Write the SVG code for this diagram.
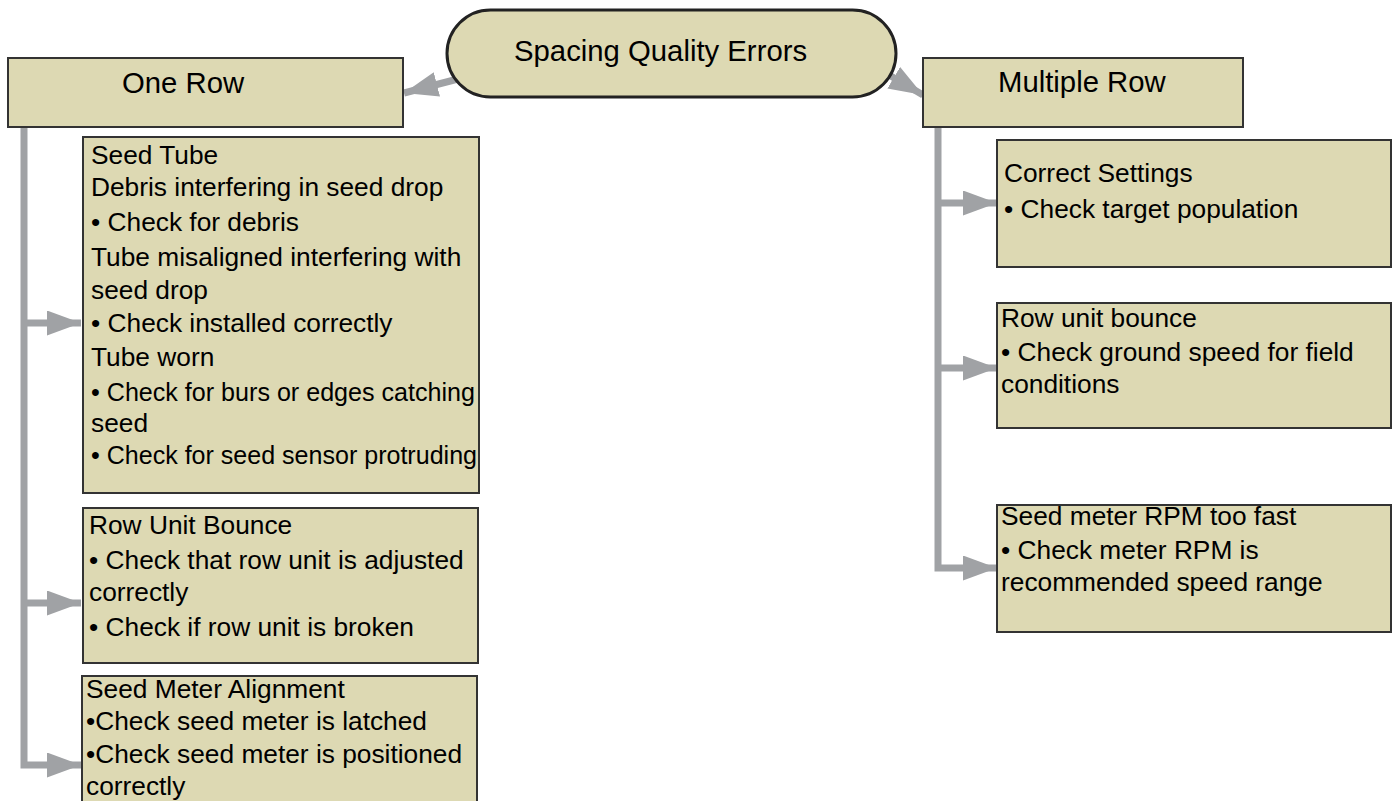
<svg xmlns="http://www.w3.org/2000/svg" width="1395" height="801" viewBox="0 0 1395 801">
<style>
.box{fill:#DDD9B3;stroke:#333333;stroke-width:2}
.pill{fill:#DDD9B3;stroke:#222222;stroke-width:3}
.conn{fill:none;stroke:#A0A2A5;stroke-width:7;stroke-linejoin:miter}
.t{font-family:"Liberation Sans",Arial,sans-serif;font-size:26.3px;fill:#000}
.h{font-family:"Liberation Sans",Arial,sans-serif;font-size:29.3px;fill:#000}
</style>
<defs>
<marker id="ah" viewBox="0 0 34 25" refX="34" refY="12.5" markerWidth="34" markerHeight="25" markerUnits="userSpaceOnUse" orient="auto">
<path d="M0,0 L34,12.5 L0,25 Z" fill="#A0A2A5"/>
</marker>
</defs>
<rect width="1395" height="801" fill="#FFFFFF"/>
<g id="connectors">
<path class="conn" d="M458,79 L404,93" marker-end="url(#ah)"/>
<path class="conn" d="M884,72 L923,95" marker-end="url(#ah)"/>
<path class="conn" d="M24,127 V765 H81" marker-end="url(#ah)"/>
<path class="conn" d="M24,323 H81" marker-end="url(#ah)"/>
<path class="conn" d="M24,603 H81" marker-end="url(#ah)"/>
<path class="conn" d="M938,127 V568 H997" marker-end="url(#ah)"/>
<path class="conn" d="M938,203 H997" marker-end="url(#ah)"/>
<path class="conn" d="M938,368 H997" marker-end="url(#ah)"/>
</g>
<g id="root">
<rect class="pill" x="447" y="10" width="449" height="87" rx="43.5" ry="43.5"/>
<text class="h" x="514" y="61">Spacing Quality Errors</text>
</g>
<g id="one-row">
<rect class="box" x="8" y="58" width="395" height="69"/>
<text class="h" x="122" y="93">One Row</text>
</g>
<g id="multiple-row">
<rect class="box" x="923" y="58" width="320" height="69"/>
<text class="h" x="998" y="92">Multiple Row</text>
</g>
<g id="seed-tube">
<rect class="box" x="83" y="137" width="396" height="356"/>
<text class="t" x="91" y="164">Seed Tube</text>
<text class="t" x="91" y="196">Debris interfering in seed drop</text>
<text class="t" x="91" y="231">• Check for debris</text>
<text class="t" x="91" y="266">Tube misaligned interfering with</text>
<text class="t" x="91" y="299">seed drop</text>
<text class="t" x="91" y="332">• Check installed correctly</text>
<text class="t" x="91" y="366">Tube worn</text>
<text class="t" x="91" y="401" textLength="384" lengthAdjust="spacingAndGlyphs">• Check for burs or edges catching</text>
<text class="t" x="91" y="432">seed</text>
<text class="t" x="91" y="464" textLength="386" lengthAdjust="spacingAndGlyphs">• Check for seed sensor protruding</text>
</g>
<g id="row-unit-bounce-left">
<rect class="box" x="83" y="508" width="395" height="155"/>
<text class="t" x="89" y="534">Row Unit Bounce</text>
<text class="t" x="89" y="569">• Check that row unit is adjusted</text>
<text class="t" x="89" y="601">correctly</text>
<text class="t" x="89" y="636">• Check if row unit is broken</text>
</g>
<g id="seed-meter-alignment">
<rect class="box" x="82" y="676" width="395" height="140"/>
<text class="t" x="86" y="698">Seed Meter Alignment</text>
<text class="t" x="86" y="730">•Check seed meter is latched</text>
<text class="t" x="86" y="763">•Check seed meter is positioned</text>
<text class="t" x="86" y="795">correctly</text>
</g>
<g id="correct-settings">
<rect class="box" x="997" y="140" width="394" height="127"/>
<text class="t" x="1004" y="182">Correct Settings</text>
<text class="t" x="1004" y="218">• Check target population</text>
</g>
<g id="row-unit-bounce-right">
<rect class="box" x="997" y="303" width="394" height="125"/>
<text class="t" x="1001" y="327">Row unit bounce</text>
<text class="t" x="1001" y="361">• Check ground speed for field</text>
<text class="t" x="1001" y="393">conditions</text>
</g>
<g id="seed-meter-rpm">
<rect class="box" x="997" y="505" width="394" height="127"/>
<text class="t" x="1001" y="525">Seed meter RPM too fast</text>
<text class="t" x="1001" y="559">• Check meter RPM is</text>
<text class="t" x="1001" y="591">recommended speed range</text>
</g>
</svg>
